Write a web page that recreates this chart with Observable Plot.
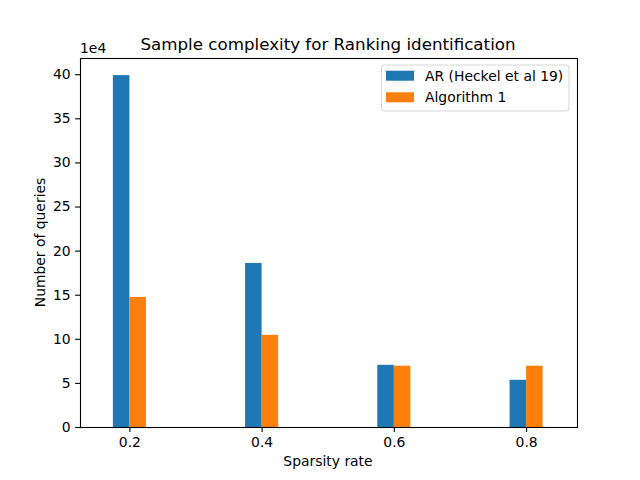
<!DOCTYPE html>
<html>
<head>
<meta charset="utf-8">
<script src="https://cdn.jsdelivr.net/npm/d3@7"></script>
<script src="https://cdn.jsdelivr.net/npm/@observablehq/plot@0.6"></script>
<style>
  html, body { margin: 0; padding: 0; background: #fff; }
  svg { font-family: "DejaVu Sans", sans-serif; }
</style>
</head>
<body>
<div id="chart"></div>
<script>
const sparsity = [0.2, 0.4, 0.6, 0.8];
const arValues = [39.9, 18.6, 7.05, 5.35];      // x 1e4
const algValues = [14.75, 10.45, 6.95, 6.95];   // x 1e4
const seriesNames = ["AR (Heckel et al 19)", "Algorithm 1"];
const seriesColors = ["#1f77b4", "#ff7f0e"];
const yTicks = [0, 5, 10, 15, 20, 25, 30, 35, 40];
const xTicks = [0.2, 0.4, 0.6, 0.8];
const barWidth = 0.025;

const rows = [];
sparsity.forEach((s, i) => {
  rows.push({s, v: arValues[i], series: seriesNames[0], side: -1});
  rows.push({s, v: algValues[i], series: seriesNames[1], side: 0});
});

const fs = 13.9;
const plot = Plot.plot({
  width: 640,
  height: 480,
  marginLeft: 80,
  marginRight: 63,
  marginTop: 58,
  marginBottom: 53,
  style: {fontFamily: "DejaVu Sans, sans-serif", fontSize: fs + "px", color: "#000", background: "#fff"},
  x: {domain: [0.1253, 0.877], label: null},
  y: {domain: [0, 41.84], label: null},
  color: {domain: seriesNames, range: seriesColors},
  marks: [
    Plot.rectY(rows, {
      x1: d => d.s + d.side * barWidth,
      x2: d => d.s + (d.side + 1) * barWidth,
      y1: 0,
      y2: "v",
      fill: "series"
    }),
    Plot.axisY({ticks: yTicks, tickSize: 4.9, tickPadding: 4.9, tickFormat: d => String(d), label: null, stroke: "#000", strokeWidth: 1.1, fontSize: fs}),
    Plot.axisX({ticks: xTicks, tickSize: 4.9, tickPadding: 4.9, tickFormat: d => d.toFixed(1), label: null, stroke: "#000", strokeWidth: 1.1, fontSize: fs}),
    Plot.frame({stroke: "#000", strokeWidth: 1.1})
  ]
});

const svg = d3.select(plot);
svg.append("text")
  .attr("x", 328).attr("y", 49.5)
  .attr("text-anchor", "middle")
  .attr("font-size", 16.7)
  .attr("fill", "#000")
  .text("Sample complexity for Ranking identification");
svg.append("text")
  .attr("x", 80).attr("y", 53)
  .attr("text-anchor", "start")
  .attr("font-size", fs)
  .attr("fill", "#000")
  .text("1e4");
svg.append("text")
  .attr("transform", "translate(44.5,242.5) rotate(-90)")
  .attr("text-anchor", "middle")
  .attr("font-size", fs)
  .attr("fill", "#000")
  .text("Number of queries");
svg.append("text")
  .attr("x", 328).attr("y", 466)
  .attr("text-anchor", "middle")
  .attr("font-size", fs)
  .attr("fill", "#000")
  .text("Sparsity rate");

// legend
const lg = svg.append("g");
lg.append("rect")
  .attr("x", 381.5).attr("y", 65).attr("width", 187.5).attr("height", 46)
  .attr("rx", 3).attr("ry", 3)
  .attr("fill", "#fff").attr("fill-opacity", 0.8)
  .attr("stroke", "#d5d5d5").attr("stroke-width", 1);
seriesNames.forEach((name, i) => {
  const y0 = 70.7 + i * 21.6;
  lg.append("rect")
    .attr("x", 386).attr("y", y0).attr("width", 28).attr("height", 10)
    .attr("fill", seriesColors[i]);
  lg.append("text")
    .attr("x", 425).attr("y", y0 + 10)
    .attr("text-anchor", "start")
    .attr("font-size", fs).attr("fill", "#000")
    .text(name);
});

document.getElementById("chart").appendChild(plot);
</script>
</body>
</html>
